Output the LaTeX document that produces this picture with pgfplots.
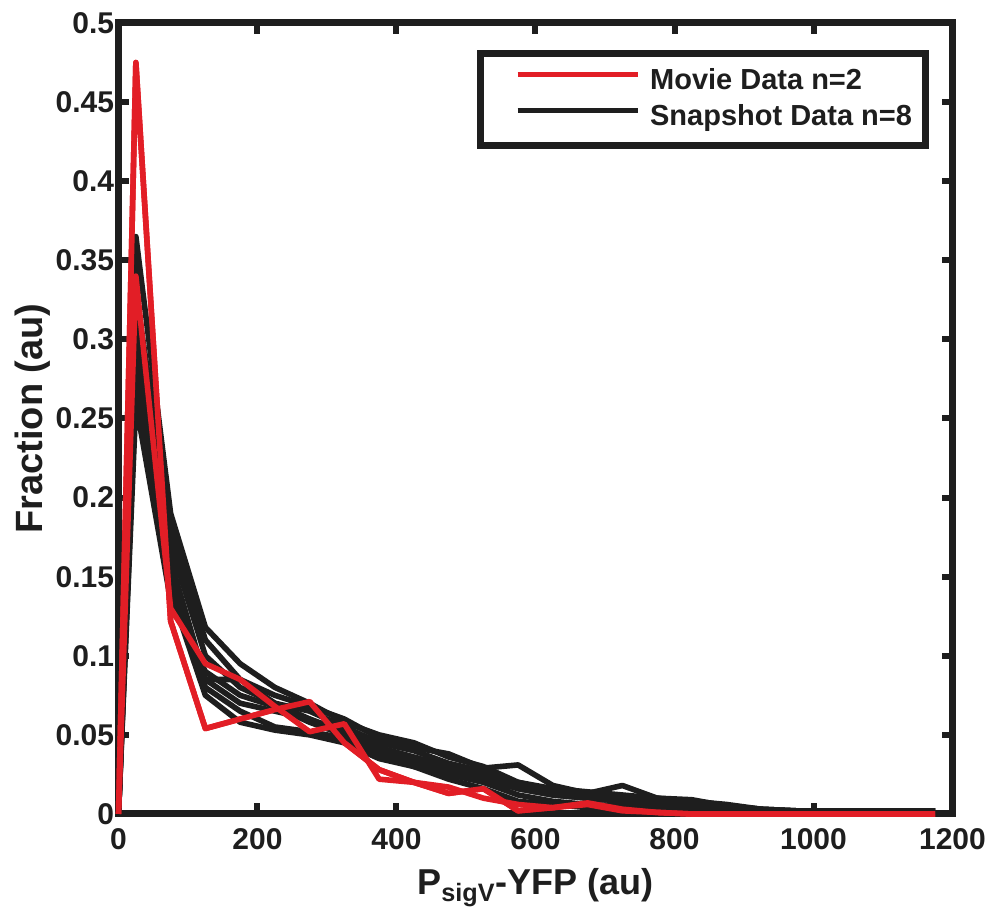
\documentclass[border=0pt]{standalone}
\usepackage{fontspec}
\setmainfont{Liberation Sans}
\usepackage{pgfplots}
\usepackage{pgfplotstable}
\pgfplotsset{compat=1.18}
\definecolor{mred}{RGB}{226,30,38}
\definecolor{mblk}{RGB}{30,30,30}
\pgfplotstableread{
x b1 b2 b3 b4 b5 b6 b7 b8
0 0 0 0 0 0 0 0 0
25 0.365 0.33 0.31 0.30 0.29 0.28 0.27 0.26
75 0.19 0.18 0.17 0.16 0.155 0.145 0.14 0.135
125 0.118 0.11 0.10 0.085 0.085 0.08 0.075 0.09
175 0.095 0.085 0.08 0.085 0.07 0.065 0.058 0.075
225 0.08 0.075 0.07 0.07 0.065 0.055 0.053 0.068
275 0.07 0.068 0.065 0.06 0.06 0.052 0.05 0.058
325 0.058 0.06 0.055 0.052 0.05 0.048 0.045 0.05
375 0.05 0.048 0.045 0.042 0.04 0.038 0.035 0.04
425 0.045 0.042 0.04 0.036 0.035 0.03 0.03 0.033
475 0.036 0.038 0.032 0.03 0.028 0.025 0.022 0.028
525 0.03 0.029 0.027 0.025 0.022 0.02 0.016 0.024
575 0.02 0.031 0.018 0.016 0.016 0.012 0.008 0.02
625 0.016 0.018 0.014 0.012 0.012 0.008 0.006 0.015
675 0.014 0.013 0.012 0.010 0.01 0.006 0.004 0.012
725 0.012 0.018 0.01 0.008 0.008 0.005 0.003 0.01
775 0.01 0.01 0.008 0.006 0.006 0.004 0.002 0.007
825 0.008 0.009 0.006 0.005 0.004 0.003 0.002 0.006
875 0.006 0.005 0.005 0.004 0.003 0.002 0.001 0.004
925 0.003 0.003 0.003 0.002 0.002 0.001 0.001 0.002
975 0.002 0.002 0.002 0.002 0.002 0.001 0.001 0.002
1025 0.002 0.002 0.002 0.002 0.002 0.001 0.001 0.002
1075 0.002 0.002 0.002 0.002 0.002 0.001 0.001 0.002
1125 0.002 0.002 0.002 0.002 0.002 0.001 0.001 0.002
1175 0.002 0.002 0.002 0.002 0.002 0.001 0.001 0.002
}\snap
\pgfplotstableread{
x r1 r2
0 0 0
25 0.475 0.34
75 0.122 0.13
125 0.054 0.095
175 0.060 0.085
225 0.066 0.068
275 0.071 0.052
325 0.045 0.057
375 0.028 0.022
425 0.020 0.020
475 0.013 0.017
525 0.016 0.010
575 0.002 0.006
625 0.004 0.004
675 0.007 0.006
725 0.003 0.002
775 0.001 0.001
825 0 0
875 0 0
925 0 0
975 0 0
1025 0 0
1075 0 0
1125 0 0
1175 0 0
}\movie
\begin{document}
\begin{tikzpicture}
\begin{axis}[
  width=417pt, height=395.5pt, scale only axis,
  xmin=0, xmax=1200, ymin=0, ymax=0.5,
  xtick={0,200,...,1200}, ytick={0,0.05,...,0.5},
  yticklabels={0,0.05,0.1,0.15,0.2,0.25,0.3,0.35,0.4,0.45,0.5},
  scaled x ticks=false,
  axis line style={line width=3.5pt, mblk},
  every tick/.style={line width=3pt, mblk},
  major tick length=5.5pt,
  tick align=inside,
  tick pos=both,
  /pgf/number format/assume math mode=true,
  /pgf/number format/1000 sep={},
  tick label style={font=\fontsize{15}{17}\selectfont\bfseries, text=mblk},
  xticklabel style={yshift=-4pt},
  yticklabel style={inner xsep=2pt},
  label style={text=mblk},
  xlabel={\fontsize{18}{20}\selectfont\bfseries P\textsubscript{sigV}-YFP (au)},
  ylabel={\fontsize{19}{21}\selectfont\bfseries Fraction (au)},
  xlabel style={at={(axis description cs:0.5,-0.1024)}, anchor=base},
  ylabel style={at={(axis description cs:-0.0911,0.5)}, anchor=base},
  legend style={at={(axis description cs:1,1)}, anchor=north east,
    xshift=-12pt, yshift=-13.5pt,
    draw=mblk, line width=3.5pt,
    font=\fontsize{14.5}{16}\selectfont\bfseries, text=mblk,
    inner xsep=6.5pt, inner ysep=5pt,
    nodes={inner sep=0pt, text height=13pt, text depth=5pt},
    /tikz/every odd column/.append style={column sep=5pt}},
  legend cell align=left,
  legend image code/.code={\path (0pt,0pt); \draw[#1, line width=2.5pt] (10.5pt,0.35em) -- (70.5pt,0.35em);},
  clip=false,
]
\addplot[mred, line width=2.8pt, line join=round] table[x=x,y=r1] {\movie};
\addlegendentry{Movie Data n=2}
\addplot[mblk, line width=2.8pt, line join=round] table[x=x,y=b1] {\snap};
\addlegendentry{Snapshot Data n=8}
\addplot[mblk, line width=2.8pt, line join=round, forget plot] table[x=x,y=b2] {\snap};
\addplot[mblk, line width=2.8pt, line join=round, forget plot] table[x=x,y=b3] {\snap};
\addplot[mblk, line width=2.8pt, line join=round, forget plot] table[x=x,y=b4] {\snap};
\addplot[mblk, line width=2.8pt, line join=round, forget plot] table[x=x,y=b5] {\snap};
\addplot[mblk, line width=2.8pt, line join=round, forget plot] table[x=x,y=b6] {\snap};
\addplot[mblk, line width=2.8pt, line join=round, forget plot] table[x=x,y=b7] {\snap};
\addplot[mblk, line width=2.8pt, line join=round, forget plot] table[x=x,y=b8] {\snap};
\addplot[mred, line width=2.8pt, line join=round, forget plot] table[x=x,y=r1] {\movie};
\addplot[mred, line width=2.8pt, line join=round, forget plot] table[x=x,y=r2] {\movie};
\coordinate (bl) at (rel axis cs:0,0);
\coordinate (tr) at (rel axis cs:1,1);
\end{axis}
\pgfresetboundingbox
\path[use as bounding box] ([shift={(-59.25pt,-50.5pt)}]bl) rectangle ([shift={(19.75pt,11.5pt)}]tr);
\end{tikzpicture}
\end{document}
